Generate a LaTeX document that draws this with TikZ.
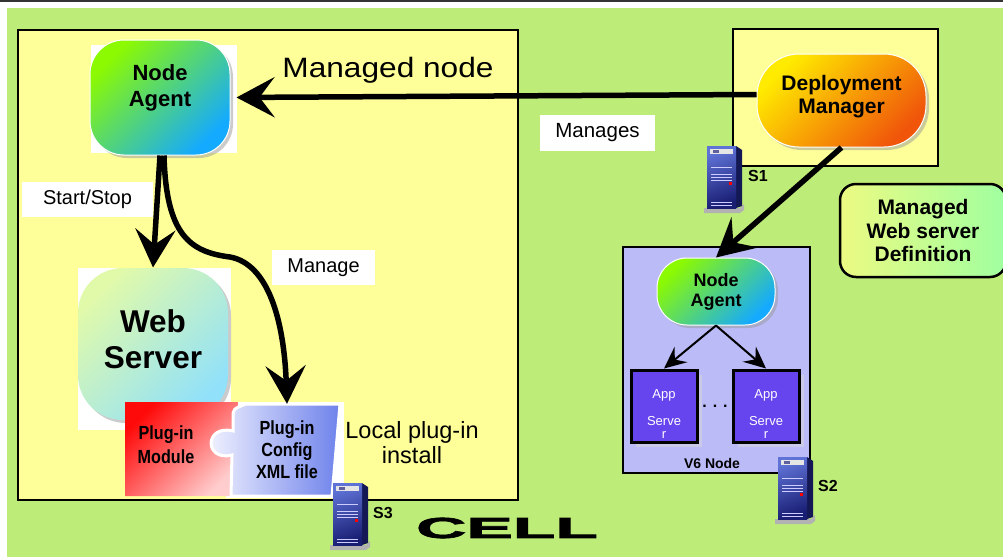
\documentclass[tikz,border=0pt]{standalone}
\usepackage{fontspec}
\usepackage{graphicx}
\usetikzlibrary{arrows.meta, shadows}

\setmainfont{Liberation Sans}
\newfontfamily\narrowbold[FakeStretch = 0.85]{Liberation Sans Bold}
\newfontfamily\heavybold[FakeBold = 2]{Liberation Sans Bold}

% centred lines, moved up or down inside a node (box kept flat)
\newcommand{\liftlines}[2]{\raisebox{#1}[0pt][0pt]{\begin{tabular}{@{}c@{}}#2\end{tabular}}}

\definecolor{slidegreen}{RGB}{190,236,120}
\definecolor{cellyellow}{RGB}{255,255,153}
\definecolor{nodelilac}{RGB}{187,187,248}
\definecolor{apppurple}{RGB}{102,68,238}
\definecolor{agentlime}{RGB}{140,250,0}
\definecolor{agentblue}{RGB}{20,170,255}
\definecolor{dmyellow}{RGB}{255,235,0}
\definecolor{dmorange}{RGB}{240,85,10}
\definecolor{weblight}{RGB}{225,250,170}
\definecolor{webcyan}{RGB}{145,225,250}
\definecolor{defyellow}{RGB}{236,250,130}
\definecolor{defgreen}{RGB}{160,255,160}
\definecolor{plugred}{RGB}{255,10,10}
\definecolor{plugpink}{RGB}{255,205,205}
\definecolor{cfgwhite}{RGB}{245,245,255}
\definecolor{cfgblue}{RGB}{110,130,235}
\definecolor{srvlight}{RGB}{95,115,215}
\definecolor{srvdark}{RGB}{25,30,115}
\definecolor{srvside}{RGB}{20,25,85}

\begin{document}
\begin{tikzpicture}[
  x = 1pt, y = -1pt,
  blob/.style = {
    rounded corners = 34pt,
    draw = white,
    line width = 1pt,
    inner sep = 0pt,
    align = center,
    drop shadow = {shadow xshift = 3pt, shadow yshift = -3pt, fill = black!40},
  },
  agent/.style = {
    blob,
    top color = agentlime,
    bottom color = agentblue,
    shading angle = 45,
  },
  frame/.style = {
    draw = black,
    line width = 2.5pt,
  },
  tag/.style = {
    fill = white,
    inner sep = 0pt,
    font = \fontsize{20}{24}\selectfont,
  },
  appserver/.style = {
    draw = black,
    line width = 3pt,
    fill = apppurple,
    text = white,
    minimum width = 66pt,
    minimum height = 72pt,
    inner sep = 0pt,
    font = \fontsize{13}{13}\selectfont,
    drop shadow = {shadow xshift = 5pt, shadow yshift = -5pt, fill = black!15},
  },
  srvname/.style = {
    font = \bfseries\fontsize{16}{16}\selectfont,
  },
  bigarrow/.style = {
    line width = 5.5pt,
    -{Stealth[length = 38pt, width = 40pt, inset = 15pt]},
  },
  smallarrow/.style = {
    line width = 2pt,
    -{Stealth[length = 22pt, width = 20pt, inset = 8pt]},
  },
  server/.pic = {
    \fill[black!30] (-3,62) -- (33,62) -- (37,58) -- (37,64) -- (33,67) -- (-3,67) -- cycle;
    \fill[srvside] (29,0) -- (35,4) -- (35,60) -- (29,62) -- cycle;
    \shade[top color = srvlight, bottom color = srvdark, shading angle = 20] (0,0) rectangle (29,62);
    \fill[black!10] (3,3) rectangle (26,8);
    \fill[srvdark!70] (6,4) rectangle (12,7);
    \foreach \ly in {21, 28, 31, 34, 56, 59}
      \draw[white!80!blue, line width = 0.8pt] (4,\ly) -- (25,\ly);
    \fill[red] (22,36) rectangle (25,39);
  },
]
  % slide background
  \useasboundingbox (0,0) rectangle (1003,557);
  \fill[white] (0,0) rectangle (1003,557);
  \draw[black!80, line width = 2pt] (0,1) -- (1003,1);
  \fill[slidegreen] (7,8) rectangle (1003,557);

  % the cell
  \draw[frame, fill = cellyellow] (18,30) rectangle (518,500);
  \fill[white] (91,45) rectangle (237,153);
  \fill[white] (78,268) rectangle (231,430);
  \fill[white] (226,402) rectangle (344,498);

  \node[agent, minimum width = 140pt, minimum height = 115pt,
    font = \bfseries\fontsize{22}{26}\selectfont] (agentL) at (160,97.5) {\liftlines{4.5pt}{Node\\Agent}};
  \node[blob, draw = none, rounded corners = 45pt, top color = weblight, bottom color = webcyan,
    shading angle = 45, minimum width = 150pt, minimum height = 152pt,
    font = \bfseries\fontsize{31.5}{36}\selectfont] (web) at (153,344) {\liftlines{-6pt}{Web\\Server}};

  % plug-in pieces
  \shade[top color = plugred, bottom color = plugpink, shading angle = 45]
    (125,402) -- (238,402) -- (231,496) -- (125,496) -- cycle;
  \shade[left color = cfgwhite, right color = cfgblue, draw = white, line width = 3pt]
    (246,404) -- (340,404) -- (332,496) -- (231,496) -- (232,455)
    .. controls (204,462) and (204,424) .. (233,431)
    -- (233,418) .. controls (233,409) .. (246,404) -- cycle;
  \node[font = \narrowbold\fontsize{19}{24}\selectfont, align = center] (module) at (166,445) {Plug-in\\Module};
  \node[font = \narrowbold\fontsize{19}{22}\selectfont, align = center,
    minimum width = 100pt, minimum height = 92pt, inner sep = 0pt] (cfg) at (287,450) {Plug-in\\Config\\XML file};

  \node[font = \fontsize{28}{28}\selectfont] (mnode) at (388,70) {\scalebox{1.13}[1]{Managed node}};
  \node[font = \fontsize{23.5}{25}\selectfont, align = center] (local) at (412,443) {Local plug-in\\install};
  \node[tag, minimum width = 131pt, minimum height = 35pt] (startstop) at (87.5,199.5) {Start/Stop};
  \node[tag, minimum width = 103pt, minimum height = 35pt] (manage) at (323.5,267.5) {Manage};

  \pic (srv3) at (333,483) {server};
  \node[srvname] (s3) at (383,513) {S3};
  \node (cell) at (507,528) {\heavybold\fontsize{29}{29}\selectfont\scalebox{2.4}[1]{CELL}};

  % deployment manager
  \draw[frame, fill = cellyellow] (733,29) rectangle (938,166);
  \node[blob, top color = dmyellow, bottom color = dmorange, shading angle = 45,
    rounded corners = 42pt, minimum width = 169pt, minimum height = 93pt,
    font = \bfseries\fontsize{21}{23}\selectfont] (dm) at (841.5,100.5) {\liftlines{-2.25pt}{Deployment\\Manager}};
  \node[tag, font = \fontsize{20.5}{24}\selectfont, minimum width = 115pt, minimum height = 36pt] (manages) at (597.5,133) {Manages};
  \pic (srv1) at (707,146) {server};
  \node[srvname] (s1) at (758,176) {S1};

  \node[draw, line width = 2.5pt, rounded corners = 16pt, left color = defyellow, right color = defgreen,
    minimum width = 166pt, minimum height = 93pt, align = center, inner sep = 0pt,
    font = \bfseries\fontsize{21}{23.5}\selectfont] (wsdef) at (923,230.5) {Managed\\Web server\\Definition};

  % v6 node
  \draw[black, line width = 2pt, fill = nodelilac] (623,247) rectangle (810,473);
  \node[agent, rounded corners = 30pt, minimum width = 118pt, minimum height = 67pt,
    font = \bfseries\fontsize{18}{20}\selectfont] (agentV) at (716,291.5) {Node\\Agent};
  \node[appserver] (app1) at (664,406) {\liftlines{-13pt}{App\\[14pt]Serve\\r}};
  \node[appserver] (app2) at (766,406) {\liftlines{-13pt}{App\\[14pt]Serve\\r}};
  \node[font = \bfseries\fontsize{16}{16}\selectfont] (dots) at (715,406) {. . .};
  \node[font = \bfseries\fontsize{14}{14}\selectfont] (v6) at (712,463) {V6 Node};
  \pic (srv2) at (778,457) {server};
  \node[srvname] (s2) at (828,486) {S2};

  % connectors
  \draw[bigarrow, shorten > = 6pt] ([yshift = 6pt]dm.west) -- (agentL.east);
  \draw[bigarrow] (agentL.south) -- (web.north);
  \draw[bigarrow] ([xshift = 4pt]agentL.south) .. controls (166,235) and (190,252) .. (230,257)
    .. controls (268,264) and (284,320) .. (cfg.north);
  \draw[bigarrow] (dm.south) -- (agentV.north);
  \draw[smallarrow] (agentV.south) -- (app1.north);
  \draw[smallarrow] (agentV.south) -- (app2.north);
\end{tikzpicture}
\end{document}
